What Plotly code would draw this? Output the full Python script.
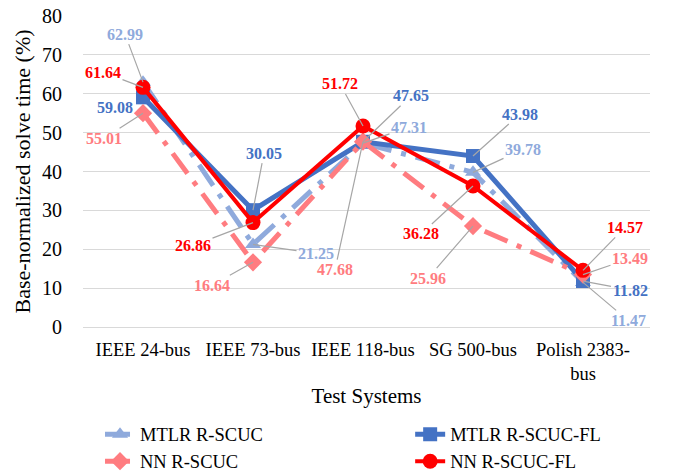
import plotly.graph_objects as go

categories = ["IEEE 24-bus", "IEEE 73-bus", "IEEE 118-bus", "SG 500-bus", "Polish 2383-<br>bus"]
mtlr = [62.99, 21.25, 47.31, 39.78, 11.47]
mtlr_fl = [59.08, 30.05, 47.65, 43.98, 11.82]
nn = [55.01, 16.64, 47.68, 25.96, 13.49]
nn_fl = [61.64, 26.86, 51.72, 36.28, 14.57]
y_ticks = [0, 10, 20, 30, 40, 50, 60, 70, 80]

# label offsets (pixels) from each point: (ax, ay, show_leader)
off_mtlr = [(-18, -48, 1), (63, 9, 1), (46, -16, 1), (50, -23, 1), (45, 38, 1)]
off_mtlr_fl = [(-28, 10, 0), (11, -57, 1), (48, -46, 1), (47, -42, 1), (47, 9, 1)]
off_nn = [(-39, 25, 1), (-41, 23, 1), (-28, 128, 1), (-45, 52, 1), (47, -16, 1)]
off_nn_fl = [(-40, -15, 1), (-60, 23, 1), (-23, -42, 1), (-52, 48, 1), (42, -43, 1)]

SERIF = "Liberation Serif, Times New Roman, serif"
C_LB, C_B, C_S, C_R = "#8FAADC", "#4472C4", "#FF7C80", "#FF0000"

fig = go.Figure()
series = [
    ("MTLR R-SCUC", mtlr, C_LB, "longdashdot", 5, "triangle-up", 14, off_mtlr, "legend"),
    ("MTLR R-SCUC-FL", mtlr_fl, C_B, "solid", 5, "square", 14, off_mtlr_fl, "legend2"),
    ("NN R-SCUC", nn, C_S, "longdashdot", 5, "diamond", 14, off_nn, "legend"),
    ("NN R-SCUC-FL", nn_fl, C_R, "solid", 4, "circle", 15, off_nn_fl, "legend2"),
]
for name, vals, col, dash, w, sym, ms, _, lg in series:
    fig.add_trace(go.Scatter(
        x=categories, y=vals, name=name, mode="lines+markers",
        line=dict(color=col, width=w, dash=dash),
        marker=dict(symbol=sym, size=ms, color=col),
        legend=lg,
    ))

annotations = []
for name, vals, col, dash, w, sym, ms, offs, _ in series:
    for c, v, (ax, ay, lead) in zip(categories, vals, offs):
        a = dict(x=c, y=v, text=f"<b>{v:.2f}</b>", font=dict(family=SERIF, size=16, color=col))
        if lead:
            a.update(showarrow=True, ax=ax, ay=ay, arrowhead=0, arrowwidth=1.2,
                     arrowcolor="#A6A6A6", standoff=0)
        else:
            a.update(showarrow=False, xshift=ax, yshift=-ay)
        annotations.append(a)

leg_common = dict(orientation="v", yanchor="top", y=-0.285, xanchor="left",
                  font=dict(family=SERIF, size=18.5, color="#000000"),
                  itemwidth=30, bgcolor="rgba(0,0,0,0)", tracegroupgap=0)

fig.update_layout(
    width=683, height=473,
    margin=dict(l=75, r=41, t=8, b=154, autoexpand=False),
    paper_bgcolor="white", plot_bgcolor="white",
    font=dict(family=SERIF, color="#000000"),
    annotations=annotations,
    showlegend=True,
    legend=dict(x=0.03, **leg_common),
    legend2=dict(x=0.577, **leg_common),
    xaxis=dict(type="category", showgrid=False, showline=True, linecolor="#D9D9D9", linewidth=1.3,
               tickfont=dict(family=SERIF, size=18.5, color="#000000"), ticks="", ticklabelstandoff=6,
               title=dict(text="Test Systems", font=dict(family=SERIF, size=21, color="#000000"), standoff=4)),
    yaxis=dict(range=[0, 80], tickvals=y_ticks, showgrid=True, gridcolor="#D9D9D9", gridwidth=1.3,
               zeroline=False, showline=False, ticks="", ticklabelstandoff=20,
               ticklabeloverflow="allow",
               tickfont=dict(family=SERIF, size=20, color="#000000"),
               title=dict(text="Base-normalized solve time (%)", font=dict(family=SERIF, size=22, color="#000000"), standoff=5)),
)

fig.write_html("out.html")
